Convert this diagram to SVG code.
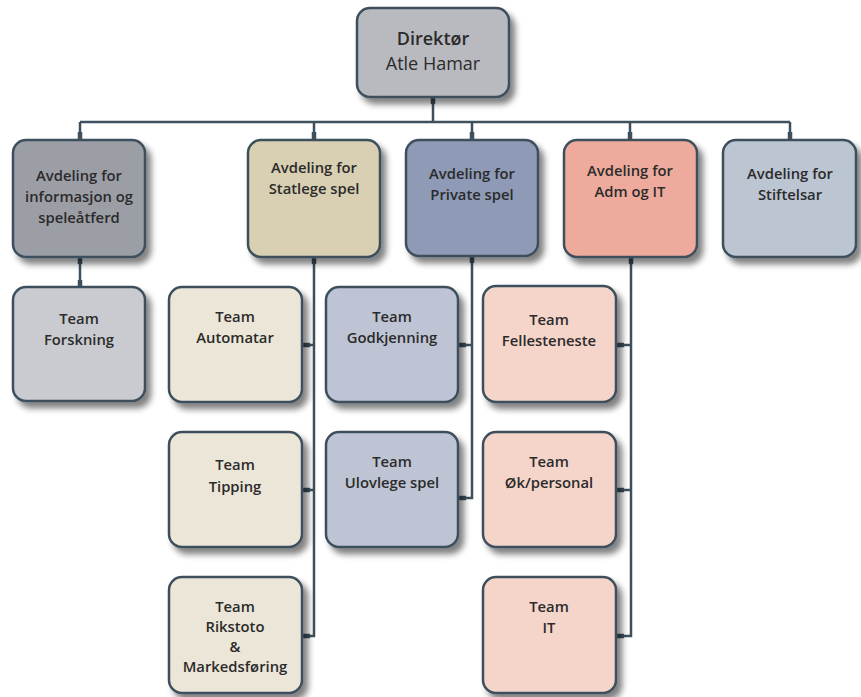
<svg xmlns="http://www.w3.org/2000/svg" width="861" height="697" viewBox="0 0 861 697">
<defs>
<filter id="sh" x="-20%" y="-20%" width="150%" height="150%">
<feGaussianBlur in="SourceAlpha" stdDeviation="3"/>
<feOffset dx="5" dy="6" result="b"/>
<feComponentTransfer><feFuncA type="linear" slope="0.5"/></feComponentTransfer>
<feMerge><feMergeNode/><feMergeNode in="SourceGraphic"/></feMerge>
</filter>
<style>
.box{stroke:#3e505d;stroke-width:2.5;filter:url(#sh)}
.ln{fill:none;stroke:#3e505d;stroke-width:2.5}
.stub{fill:none;stroke:#3e505d;stroke-width:4.5}
text{font-family:"Open Sans","Noto Sans","Liberation Sans",sans-serif;fill:#2b2b2b;text-anchor:middle}
.d{font-size:14.8px;font-weight:600}
.t{font-size:14.8px;font-weight:600}
.dir{font-size:18px}
</style>
</defs>
<rect width="861" height="697" fill="#ffffff"/>
<g id="connectors">
<path class="ln" d="M433 97 V122 M80 122 H790 M80 122 V140 M314 122 V140 M472 122 V140 M630 122 V140 M790 122 V140"/>
<path class="ln" d="M80 257 V287"/>
<path class="ln" d="M314 257 V636 H302 M302 345 H314 M302 490 H314"/>
<path class="ln" d="M472 256 V498 H458 M458 345 H472"/>
<path class="ln" d="M631 257 V636 H616 M616 345 H631 M616 490 H631"/>
<path class="stub" d="M433 97 V104 M80 132 V140 M314 132 V140 M472 132 V140 M630 132 V140 M790 132 V140 M80 257 V264 M80 280 V287 M314 257 V264 M472 256 V263 M631 257 V264 M302 345 H310 M302 490 H310 M302 636 H310 M458 345 H466 M458 498 H466 M616 345 H624 M616 490 H624 M616 636 H624"/>
</g>
<g id="direktor"><rect class="box" x="357" y="8" width="152" height="89" rx="13" fill="#b9bac0"/>
<text class="dir" x="433" y="45" font-weight="600">Direktør</text><text class="dir" x="433" y="70">Atle Hamar</text></g>
<g id="avd-info"><rect class="box" x="13" y="140" width="132" height="117" rx="13" fill="#9c9ea6"/>
<text class="d" x="79" y="181">Avdeling for</text><text class="d" x="79" y="202">informasjon og</text><text class="d" x="79" y="223">speleåtferd</text></g>
<g id="avd-statlege"><rect class="box" x="248" y="140" width="132" height="117" rx="13" fill="#d9d0b3"/>
<text class="d" x="314" y="173">Avdeling for</text><text class="d" x="314" y="194">Statlege spel</text></g>
<g id="avd-private"><rect class="box" x="406" y="140" width="132" height="116" rx="13" fill="#8e9ab6"/>
<text class="d" x="472" y="179">Avdeling for</text><text class="d" x="472" y="200">Private spel</text></g>
<g id="avd-adm"><rect class="box" x="564" y="140" width="133" height="117" rx="13" fill="#eeab9d"/>
<text class="d" x="630" y="176">Avdeling for</text><text class="d" x="630" y="197">Adm og IT</text></g>
<g id="avd-stiftelsar"><rect class="box" x="723" y="140" width="133" height="117" rx="13" fill="#bcc5d2"/>
<text class="d" x="790" y="179">Avdeling for</text><text class="d" x="790" y="200">Stiftelsar</text></g>
<g id="team-forskning"><rect class="box" x="13" y="287" width="132" height="114" rx="13" fill="#c9cbd0"/>
<text class="t" x="79" y="324">Team</text><text class="t" x="79" y="345">Forskning</text></g>
<g id="team-automatar"><rect class="box" x="169" y="287" width="133" height="115" rx="13" fill="#ebe6d8"/>
<text class="t" x="235" y="322">Team</text><text class="t" x="235" y="343">Automatar</text></g>
<g id="team-tipping"><rect class="box" x="169" y="432" width="133" height="115" rx="13" fill="#ebe6d8"/>
<text class="t" x="235" y="470">Team</text><text class="t" x="235" y="492">Tipping</text></g>
<g id="team-rikstoto"><rect class="box" x="169" y="577" width="133" height="116" rx="13" fill="#ebe6d8"/>
<text class="t" x="235" y="612">Team</text><text class="t" x="235" y="632">Rikstoto</text><text class="t" x="235" y="652">&amp;</text><text class="t" x="235" y="672">Markedsføring</text></g>
<g id="team-godkjenning"><rect class="box" x="326" y="287" width="132" height="115" rx="13" fill="#bec4d4"/>
<text class="t" x="392" y="322">Team</text><text class="t" x="392" y="343">Godkjenning</text></g>
<g id="team-ulovlege"><rect class="box" x="326" y="432" width="132" height="115" rx="13" fill="#bec4d4"/>
<text class="t" x="392" y="467">Team</text><text class="t" x="392" y="488">Ulovlege spel</text></g>
<g id="team-fellesteneste"><rect class="box" x="483" y="286" width="133" height="116" rx="13" fill="#f5d4ca"/>
<text class="t" x="549" y="325">Team</text><text class="t" x="549" y="346">Fellesteneste</text></g>
<g id="team-okpersonal"><rect class="box" x="483" y="432" width="133" height="115" rx="13" fill="#f5d4ca"/>
<text class="t" x="549" y="467">Team</text><text class="t" x="549" y="488">Øk/personal</text></g>
<g id="team-it"><rect class="box" x="483" y="577" width="133" height="116" rx="13" fill="#f5d4ca"/>
<text class="t" x="549" y="612">Team</text><text class="t" x="549" y="633">IT</text></g>
</svg>
